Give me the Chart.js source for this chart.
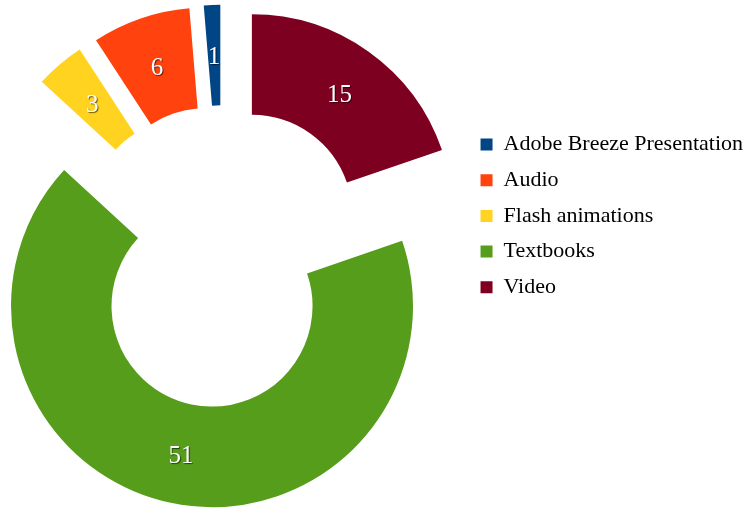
<!DOCTYPE html>
<html>
<head>
<meta charset="utf-8">
<title>Media types</title>
<script src="https://cdn.jsdelivr.net/npm/chart.js@4/dist/chart.umd.min.js"></script>
<style>
  html, body { margin: 0; padding: 0; background: #fff; overflow: hidden; }
  /* canvas um pouco mais largo, deslocado à esquerda, para aproximar o anel da borda */
  #grafico { display: block; margin-left: -22px; }
</style>
</head>
<body>
<canvas id="grafico" width="775" height="510"></canvas>
<script>
/* categorias e valores (ordem da legenda) */
const categories = [
  "Adobe Breeze Presentation",
  "Audio",
  "Flash animations",
  "Textbooks",
  "Video",
];
const values = [1, 6, 3, 51, 15];
const colors = ["#004586", "#ff420e", "#ffd320", "#579d1c", "#7e0021"];

// fatias desenhadas no sentido horário a partir do topo, começando por Video
const sliceLabels = categories.slice().reverse();
const sliceValues = values.slice().reverse();
const sliceColors = colors.slice().reverse();

const explodeDist = 50.7; // afastamento de cada fatia do centro (px)
const serif = '"Liberation Serif", "Times New Roman", serif';

/* --- afasta cada fatia ao longo do seu ângulo médio --- */
const explodePlugin = {
  id: "explode",
  afterDatasetsUpdate(chart) {
    chart.getDatasetMeta(0).data.forEach((arc) => {
      const mid = (arc.startAngle + arc.endAngle) / 2;
      arc.x += Math.cos(mid) * explodeDist;
      arc.y += Math.sin(mid) * explodeDist;
    });
  },
};

/* --- valores escritos dentro das fatias --- */
const valueLabels = {
  id: "valueLabels",
  afterDatasetsDraw(chart) {
    const { ctx } = chart;
    const meta = chart.getDatasetMeta(0);
    ctx.save();
    ctx.font = "25px " + serif;
    ctx.textAlign = "center";
    ctx.textBaseline = "middle";
    ctx.fillStyle = "#ffffff";
    ctx.shadowColor = "rgba(0,0,0,0.6)";
    ctx.shadowOffsetX = 1;
    ctx.shadowOffsetY = 1;
    ctx.shadowBlur = 1;
    meta.data.forEach((arc, i) => {
      const p = arc.getCenterPoint();
      ctx.fillText(String(sliceValues[i]), p.x, p.y + 2.5);
    });
    ctx.restore();
  },
};

new Chart(document.getElementById("grafico"), {
  type: "doughnut",
  data: {
    labels: sliceLabels,
    datasets: [
      {
        data: sliceValues,
        backgroundColor: sliceColors,
        borderWidth: 0,
      },
    ],
  },
  options: {
    responsive: false,
    animation: false,
    events: [],
    radius: 201,
    cutout: "50%",
    layout: { padding: { top: 3 } },
    plugins: {
      tooltip: { enabled: false },
      legend: {
        position: "right",
        align: "start",
        reverse: true,
        // título vazio só para empurrar os itens para baixo
        title: {
          display: true,
          text: "",
          font: { size: 12, lineHeight: 1 },
          padding: { top: 0, bottom: 104.8 },
        },
        labels: {
          boxWidth: 12,
          boxHeight: 12,
          padding: 13.7,
          color: "#000",
          font: { family: serif, size: 22 },
        },
      },
    },
  },
  plugins: [explodePlugin, valueLabels],
});
</script>
</body>
</html>
